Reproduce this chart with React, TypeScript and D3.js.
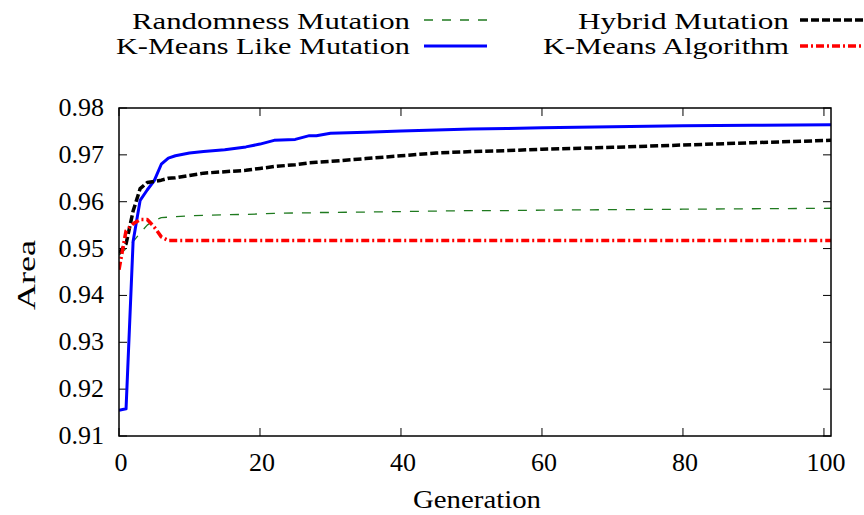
import React from "react";
import * as d3 from "d3";

const generations = [0, 1, 2, 3, 4, 5, 6, 7, 8, 10, 12, 15, 18, 20, 22, 25, 27, 28, 30, 35, 40, 45, 50, 55, 60, 70, 80, 90, 101];
const randomness = [0.9486, 0.95, 0.9515, 0.9533, 0.955, 0.956, 0.9566, 0.9567, 0.9568, 0.957, 0.9571, 0.9572, 0.9573, 0.9574, 0.9575, 0.9576, 0.9576, 0.9577, 0.9577, 0.9578, 0.9579, 0.958, 0.9581, 0.9581, 0.9582, 0.9583, 0.9584, 0.9585, 0.9586];
const kmeansLike = [0.9155, 0.9158, 0.9515, 0.9603, 0.9625, 0.9645, 0.968, 0.9693, 0.9698, 0.9704, 0.9707, 0.9711, 0.9717, 0.9723, 0.9731, 0.9733, 0.9741, 0.9741, 0.9746, 0.9748, 0.9751, 0.9753, 0.9755, 0.9756, 0.9758, 0.976, 0.9762, 0.9763, 0.9764];
const hybrid = [0.949, 0.951, 0.958, 0.9628, 0.9641, 0.9643, 0.9646, 0.965, 0.9651, 0.9656, 0.9661, 0.9664, 0.9667, 0.9671, 0.9675, 0.9679, 0.9683, 0.9684, 0.9686, 0.9692, 0.9698, 0.9704, 0.9707, 0.9709, 0.9712, 0.9716, 0.9721, 0.9726, 0.9731];
const kmeansAlgo = [0.9455, 0.9538, 0.9553, 0.9562, 0.9562, 0.9546, 0.9525, 0.9517, 0.9517, 0.9517, 0.9517, 0.9517, 0.9517, 0.9517, 0.9517, 0.9517, 0.9517, 0.9517, 0.9517, 0.9517, 0.9517, 0.9517, 0.9517, 0.9517, 0.9517, 0.9517, 0.9517, 0.9517, 0.9517];

const xTicks = [0, 20, 40, 60, 80, 100];
const yTicks = [0.91, 0.92, 0.93, 0.94, 0.95, 0.96, 0.97, 0.98];

const seriesNames = ["Randomness Mutation", "K-Means Like Mutation", "Hybrid Mutation", "K-Means Algorithm"];

const W = 864, H = 515;
const M = { left: 119, right: 831, top: 108, bottom: 436 };
const FONT = '"Liberation Serif", Tinos, "Noto Serif", "DejaVu Serif", "Times New Roman", Times, serif';

export default function App() {
  const x = d3.scaleLinear().domain([0, 101]).range([M.left, M.right]);
  const y = d3.scaleLinear().domain([0.91, 0.98]).range([M.bottom, M.top]);
  const line = (vals: number[]) =>
    d3.line<number>().x((_, i) => x(generations[i])).y((v) => y(v))(vals) || "";

  const styles = [
    { vals: randomness, color: "#1f7a1f", width: 1.3, dash: "9,9" },
    { vals: kmeansLike, color: "#0000ff", width: 3, dash: "" },
    { vals: hybrid, color: "#000000", width: 3.5, dash: "8,3" },
    { vals: kmeansAlgo, color: "#ff0000", width: 3.5, dash: "8,3,2,3" },
  ];
  const legendPos = [
    { tx: 410, tw: 278, by: 29, ly: 20, lx1: 424, lx2: 487 },
    { tx: 410, tw: 294, by: 54, ly: 46, lx1: 424, lx2: 487 },
    { tx: 789, tw: 211, by: 29, ly: 20, lx1: 800, lx2: 864 },
    { tx: 789, tw: 246, by: 54, ly: 46, lx1: 800, lx2: 864 },
  ];
  const tick = 8;
  const fs = 26;
  const lfs = 23;

  return (
    <svg width={W} height={H} style={{ position: "absolute", left: 0, top: 0, background: "#fff", fontFamily: FONT }}>
      <rect width={W} height={H} fill="#fff" />
      {xTicks.map((t) => (
        <g key={"xt" + t}>
          <line x1={x(t)} x2={x(t)} y1={M.bottom} y2={M.bottom - tick} stroke="#000" strokeWidth={1} />
          <line x1={x(t)} x2={x(t)} y1={M.top} y2={M.top + tick} stroke="#000" strokeWidth={1} />
          <text x={x(t) + 2} y={471} textAnchor="middle" fontSize={fs} style={{ fontFamily: FONT }}>{t}</text>
        </g>
      ))}
      {yTicks.map((t) => (
        <g key={"yt" + t}>
          <line x1={M.left} x2={M.left + tick} y1={y(t)} y2={y(t)} stroke="#000" strokeWidth={1} />
          <line x1={M.right} x2={M.right - tick} y1={y(t)} y2={y(t)} stroke="#000" strokeWidth={1} />
          <text x={104} y={y(t) + 8} textAnchor="end" fontSize={fs} style={{ fontFamily: FONT }}>{t.toFixed(2)}</text>
        </g>
      ))}
      <text x={477} y={508} textAnchor="middle" fontSize={fs} textLength={128} lengthAdjust="spacingAndGlyphs" style={{ fontFamily: FONT }}>Generation</text>
      <text transform={`translate(35,275) rotate(-90)`} textAnchor="middle" fontSize={fs} textLength={70} lengthAdjust="spacingAndGlyphs" style={{ fontFamily: FONT }}>Area</text>
      <defs>
        <clipPath id="plotclip">
          <rect x={M.left} y={M.top} width={M.right - M.left} height={M.bottom - M.top} />
        </clipPath>
      </defs>
      <g clipPath="url(#plotclip)">
        {styles.map((s, i) => (
          <path key={i} d={line(s.vals)} fill="none" stroke={s.color} strokeWidth={s.width} strokeDasharray={s.dash || undefined} strokeLinejoin="round" />
        ))}
      </g>
      <rect x={M.left} y={M.top} width={M.right - M.left} height={M.bottom - M.top} fill="none" stroke="#000" strokeWidth={1.5} />
      {styles.map((s, i) => {
        const p = legendPos[i];
        return (
          <g key={"lg" + i}>
            <text x={p.tx - p.tw} y={p.by} fontSize={lfs} textLength={p.tw} lengthAdjust="spacingAndGlyphs" style={{ fontFamily: FONT }}>{seriesNames[i]}</text>
            <line x1={p.lx1} x2={p.lx2} y1={p.ly} y2={p.ly} stroke={s.color} strokeWidth={s.width} strokeDasharray={s.dash || undefined} />
          </g>
        );
      })}
    </svg>
  );
}
